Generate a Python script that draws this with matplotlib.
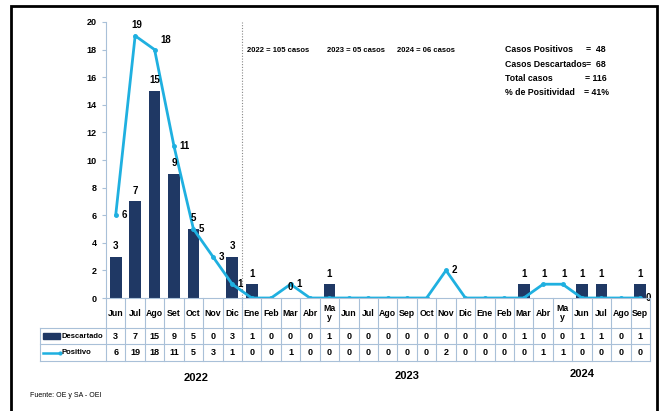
import numpy as np
import matplotlib.pyplot as plt
from matplotlib import transforms
from matplotlib.lines import Line2D
from matplotlib.patches import Rectangle

plt.rcParams['font.family'] = ['Liberation Sans', 'DejaVu Sans']

meses = ["Jun", "Jul", "Ago", "Set", "Oct", "Nov", "Dic",
         "Ene", "Feb", "Mar", "Abr", "Ma\ny", "Jun", "Jul", "Ago", "Sep", "Oct", "Nov", "Dic",
         "Ene", "Feb", "Mar", "Abr", "Ma\ny", "Jun", "Jul", "Ago", "Sep"]
descartado = [3, 7, 15, 9, 5, 0, 3,
              1, 0, 0, 0, 1, 0, 0, 0, 0, 0, 0, 0,
              0, 0, 1, 0, 0, 1, 1, 0, 1]
positivo = [6, 19, 18, 11, 5, 3, 1,
            0, 0, 1, 0, 0, 0, 0, 0, 0, 0, 2, 0,
            0, 0, 0, 1, 1, 0, 0, 0, 0]
resumen_anual = ["2022 = 105 casos", "2023 = 05 casos", "2024 = 06 casos"]
resumen = ["Casos Positivos", "Casos Descartados", "Total casos", "% de Positividad"]
resumen_val = ["=  48", "=  68", "= 116", "= 41%"]
anios = ["2022", "2023", "2024"]

navy = "#1F3864"
cyan = "#1FB0E0"
grid_c = "#A9C0D8"

W, H = 663, 411
def fx(p): return p / W
def fy(p): return 1 - p / H

fig = plt.figure(figsize=(W / 100, H / 100), dpi=100)
ax = fig.add_axes([fx(106), fy(298), fx(650) - fx(106), (298 - 22) / H])
x = np.arange(len(meses))

ax.bar(x, descartado, width=0.6, color=navy, zorder=2)
ax.plot(x, positivo, color=cyan, lw=2, marker='o', ms=2.5, zorder=3)
ax.set_xlim(-0.5, len(meses) - 0.5)
ax.set_ylim(0, 20)
ax.set_yticks(range(0, 21, 2))
ax.tick_params(axis='y', labelsize=6.5, length=3, color=grid_c)
for t in ax.get_yticklabels():
    t.set_fontweight('bold')
ax.set_xticks([])
for s in ['top', 'right', 'bottom']:
    ax.spines[s].set_visible(False)
ax.spines['left'].set_color(grid_c)

# etiquetas de barras
for i, v in enumerate(descartado):
    if v > 0 or i == 9:
        ax.annotate(str(v), (i, v), xytext=(0, 4), textcoords='offset points',
                    ha='center', va='bottom', fontsize=7, fontweight='bold')
# etiquetas de la linea
for i, v in enumerate(positivo):
    if v > 0 or i == len(positivo) - 1:
        if i in (1, 22, 23):
            off, ha, va = (1, 4), 'center', 'bottom'
        elif i == 2:
            off, ha, va = (4, 3), 'left', 'bottom'
        else:
            off, ha, va = (4, 0), 'left', 'center'
        ax.annotate(str(v), (i, v), xytext=off, textcoords='offset points',
                    ha=ha, va=va, fontsize=7, fontweight='bold')

# linea punteada entre 2022 y 2023
ax.plot([6.5, 6.5], [0, 20], transform=ax.transData, color='#888888', lw=0.8,
        ls=(0, (1, 1.5)), clip_on=False)
bt = transforms.blended_transform_factory(ax.transData, fig.transFigure)
fig.add_artist(Line2D([6.5, 6.5], [fy(298), fy(325)], transform=bt, color='#888888',
                      lw=0.8, ls=(0, (1, 1.5))))

# tabla de datos
for i in range(len(meses) + 1):
    fig.add_artist(Line2D([i - 0.5, i - 0.5], [fy(298), fy(361)], transform=bt, color=grid_c, lw=0.8))
fig.add_artist(Line2D([fx(106), fx(650)], [fy(298), fy(298)], transform=fig.transFigure, color=grid_c, lw=0.8))
for py in (328, 344, 361):
    fig.add_artist(Line2D([fx(40), fx(650)], [fy(py), fy(py)], transform=fig.transFigure, color=grid_c, lw=0.8))
fig.add_artist(Line2D([fx(40), fx(40)], [fy(328), fy(361)], transform=fig.transFigure, color=grid_c, lw=0.8))

for i, m in enumerate(meses):
    fig.text(i, fy(313), m, transform=bt, ha='center', va='center', fontsize=6.3,
             fontweight='bold', linespacing=1.0)
    fig.text(i, fy(336), str(descartado[i]), transform=bt, ha='center', va='center',
             fontsize=6.5, fontweight='bold')
    fig.text(i, fy(352.5), str(positivo[i]), transform=bt, ha='center', va='center',
             fontsize=6.5, fontweight='bold')

fig.add_artist(Rectangle((fx(43), fy(339)), fx(17), (339 - 333) / H, transform=fig.transFigure,
                         color=navy))
fig.text(fx(61), fy(336), "Descartado", ha='left', va='center', fontsize=5.5, fontweight='bold')
fig.add_artist(Line2D([fx(43), fx(60)], [fy(352.5), fy(352.5)], transform=fig.transFigure,
                      color=cyan, lw=1.8, marker='o', ms=2, markevery=[1]))
fig.text(fx(61), fy(352.5), "Positivo", ha='left', va='center', fontsize=5.5, fontweight='bold')

# textos
for t, px in zip(resumen_anual, (247, 327, 397)):
    fig.text(fx(px), fy(50), t, ha='left', va='center', fontsize=5.5, fontweight='bold')
for k, (t, v) in enumerate(zip(resumen, resumen_val)):
    fig.text(fx(505), fy(50 + k * 14.3), t, ha='left', va='center', fontsize=6.3, fontweight='bold')
    fig.text(fx(596), fy(50 + k * 14.3), v, ha='center', va='center', fontsize=6.3, fontweight='bold')
for t, px, py in zip(anios, (196, 407, 582), (378, 376, 374)):
    fig.text(fx(px), fy(py), t, ha='center', va='center', fontsize=8, fontweight='bold')
fig.text(fx(30), fy(395), "Fuente: OE y SA - OEI", ha='left', va='center', fontsize=5)

fig.add_artist(Rectangle((fx(11), fy(420)), fx(646), (420 - 6) / H, transform=fig.transFigure,
                         fill=False, ec='black', lw=2))

fig.savefig("out.png", dpi=100)
